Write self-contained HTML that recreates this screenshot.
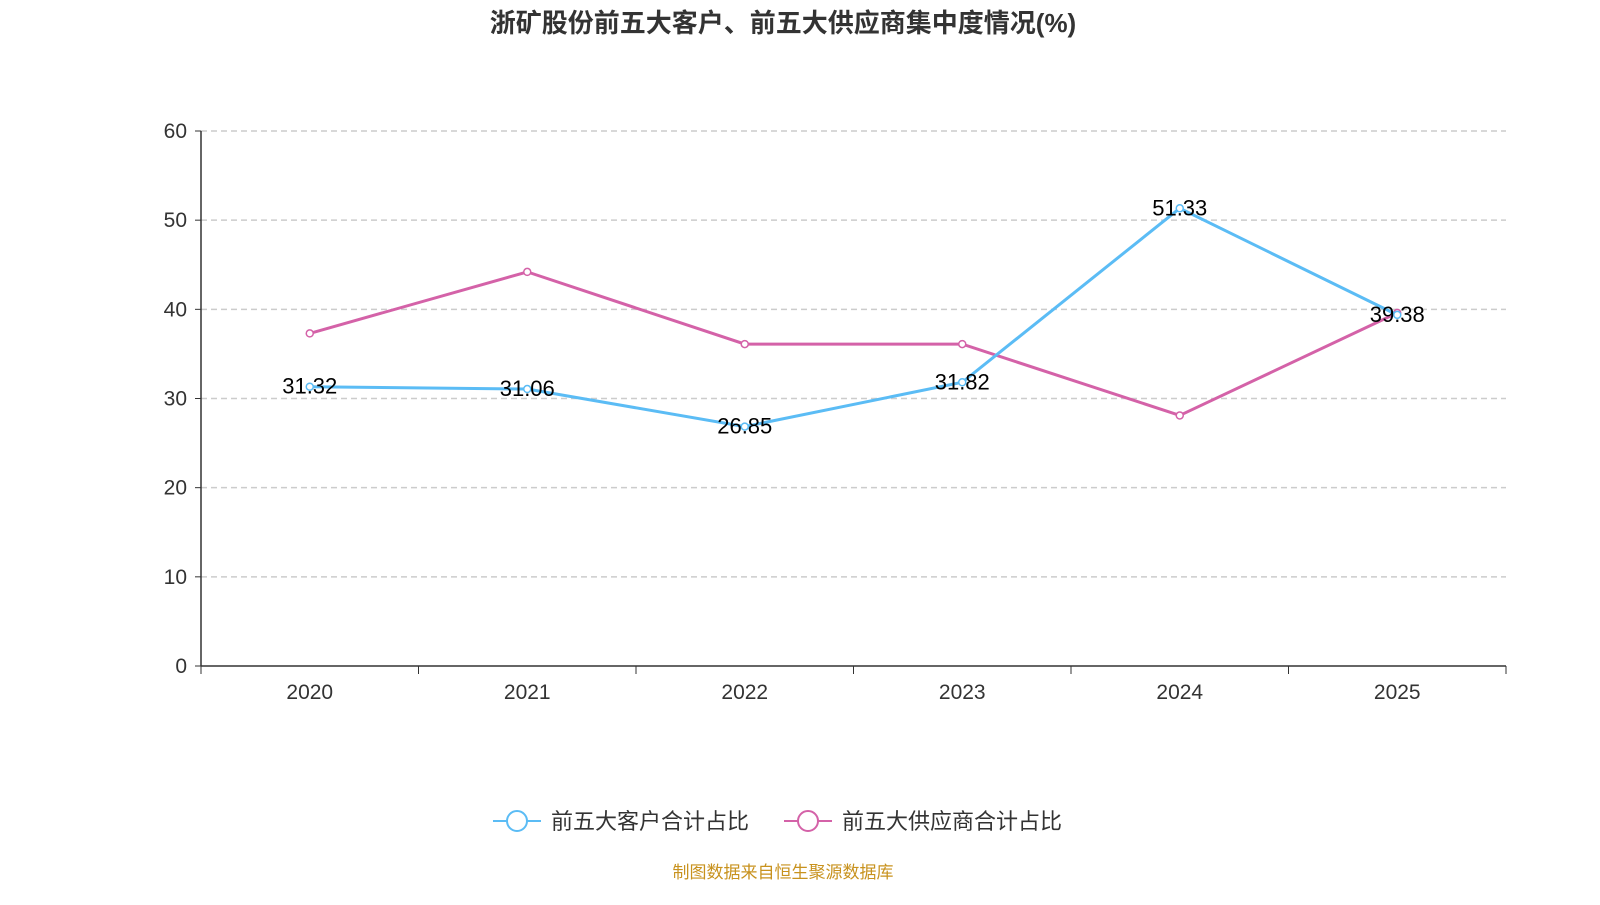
<!DOCTYPE html>
<html><head><meta charset="utf-8">
<style>
html,body{margin:0;padding:0;background:#fff;}
body{width:1600px;height:900px;overflow:hidden;font-family:"Liberation Sans","Noto Sans CJK SC",sans-serif;}
</style></head>
<body>
<svg id="chart" width="1600" height="900" xmlns="http://www.w3.org/2000/svg">
<text x="783" y="32" text-anchor="middle" font-size="26" font-weight="bold" fill="#333" font-family="Liberation Sans,Noto Sans CJK SC,sans-serif">浙矿股份前五大客户、前五大供应商集中度情况(%)</text>
<g id="grid"></g><g id="axes"></g><g id="series"></g>
<g>
<g>
<line x1="493" y1="821" x2="541" y2="821" stroke="#5bbcf5" stroke-width="2"/>
<circle cx="517" cy="821" r="10" fill="#fff" stroke="#5bbcf5" stroke-width="2"/>
<text x="551" y="829" font-size="22" fill="#333">前五大客户合计占比</text></g>
<g>
<line x1="784" y1="821" x2="832" y2="821" stroke="#d462a8" stroke-width="2"/>
<circle cx="808" cy="821" r="10" fill="#fff" stroke="#d462a8" stroke-width="2"/>
<text x="842" y="829" font-size="22" fill="#333">前五大供应商合计占比</text></g>
</g>
<text x="783" y="878" text-anchor="middle" font-size="17" fill="#c8921e">制图数据来自恒生聚源数据库</text>
</svg>
<script>
const categories=["2020","2021","2022","2023","2024","2025"];
const customers=[31.32,31.06,26.85,31.82,51.33,39.38];
const suppliers=[37.3,44.2,36.1,36.1,28.1,39.6];
const yTicks=[0,10,20,30,40,50,60];
const NS="http://www.w3.org/2000/svg";
const x0=201,x1=1506,yb=666,yt=131,ymax=60;
const step=(x1-x0)/categories.length;
const X=i=>x0+step*(i+0.5);
const Y=v=>yb-(v/ymax)*(yb-yt);
function mk(tag,attrs,parent){const e=document.createElementNS(NS,tag);for(const k in attrs)e.setAttribute(k,attrs[k]);parent.appendChild(e);return e;}
const grid=document.getElementById('grid'),axes=document.getElementById('axes'),ser=document.getElementById('series');
yTicks.forEach(t=>{
 if(t>0){const l=mk('line',{x1:x0,x2:x1,y1:Y(t),y2:Y(t),stroke:'#ccc','stroke-dasharray':'6,4','stroke-width':1.5},grid);
 
 }
 mk('line',{x1:x0-6,x2:x0,y1:Y(t),y2:Y(t),stroke:'#333'},axes);
 const tx=mk('text',{x:x0-14,y:Y(t)+7,'text-anchor':'end','font-size':21,fill:'#333'},axes);tx.textContent=t;
 
 
});
mk('line',{x1:x0,x2:x0,y1:yt,y2:yb,stroke:'#333','stroke-width':1.5},axes);
mk('line',{x1:x0,x2:x1,y1:yb,y2:yb,stroke:'#333','stroke-width':1.5},axes);
for(let i=0;i<=categories.length;i++)mk('line',{x1:x0+step*i,x2:x0+step*i,y1:yb,y2:yb+8,stroke:'#333'},axes);
categories.forEach((c,i)=>{const t=mk('text',{x:X(i),y:699,'text-anchor':'middle','font-size':21,fill:'#333'},axes);t.textContent=c;
 
 });
function draw(vals,color,name,labels){
 const p=mk('polyline',{points:vals.map((v,i)=>X(i)+','+Y(v)).join(' '),fill:'none',stroke:color,'stroke-width':3},ser);
 
 
 vals.forEach((v,i)=>{const c=mk('circle',{cx:X(i),cy:Y(v),r:3.5,fill:'#fff',stroke:color,'stroke-width':1.5},ser);
  
  
  if(labels){const t=mk('text',{x:X(i),y:Y(v)+7,'text-anchor':'middle','font-size':22,fill:'#000'},ser);t.textContent=v.toFixed(2);
  
  }
 });
}
draw(suppliers,'#d462a8','suppliers',false);
draw(customers,'#5bbcf5','customers',true);
</script>
</body></html>
